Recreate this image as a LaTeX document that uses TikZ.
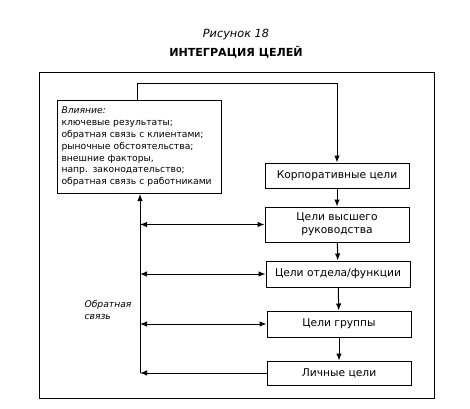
\documentclass[tikz,border=0pt]{standalone}
\usepackage{fontspec}
\setmainfont{DejaVu Sans}
\usetikzlibrary{arrows.meta}
\begin{document}
\begin{tikzpicture}[x=1pt,y=1pt,
  line/.style={line width=1pt},
  goal/.style={draw, line width=1pt, minimum width=144pt, inner sep=1pt, align=center, font=\fontsize{10.7}{13}\selectfont},
  tip/.style={line, -{Latex[length=7pt,width=5.5pt]}},
  dtip/.style={line, {Latex[length=7pt,width=5.5pt]}-{Latex[length=7pt,width=5.5pt]}}]
\useasboundingbox (0,0) rectangle (470,408);
\node (t1) at (236,374) {\fontsize{11.3}{12}\selectfont\itshape Рисунок 18};
\node (t2) at (236,356) {\fontsize{11.1}{12}\selectfont\bfseries ИНТЕГРАЦИЯ ЦЕЛЕЙ};
\node (frame) [draw, line width=1pt, minimum width=395pt, minimum height=326pt, inner sep=0] at (236.5,173) {};
\node (infl) [draw, line width=1pt, anchor=north west, minimum width=164pt, minimum height=93pt, text width=156pt, inner xsep=4pt, inner ysep=4.5pt, align=left, font=\fontsize{9.2}{11.8}\selectfont] at (57,308)
 {\textit{Влияние:}\\ключевые результаты;\\обратная связь с клиентами;\\рыночные обстоятельства;\\внешние факторы,\\напр. законодательство;\\обратная связь с работниками};
\node (korp) [goal, minimum height=25pt] at (337,232.5) {Корпоративные цели};
\node (vys) [goal, minimum height=35pt] at (337,183.5) {Цели высшего\\руководства};
\node (otd) [goal, minimum height=26pt] at (338,134) {Цели отдела/функции};
\node (grp) [goal, minimum height=26pt] at (339,84) {Цели группы};
\node (lich) [goal, minimum height=24pt] at (339,35) {Личные цели};
\node (fbl) [anchor=west, align=left, font=\fontsize{9.2}{12}\selectfont\itshape] at (81,98) {Обратная\\связь};
\coordinate (lt) at (137,325);
\coordinate (fb) at (140,35);
\draw[tip] (infl.north -| lt) -- (lt) -| (korp.north);
\draw[tip] (korp) -- (vys);
\draw[tip] (vys) -- (otd);
\draw[tip] (otd) -- (grp);
\draw[tip] (grp) -- (lich);
\draw[tip] (fb) -- (infl.south -| fb);
\draw[tip] (lich.west) -- (fb);
\draw[dtip] (vys.west -| fb) -- (vys.west);
\draw[dtip] (otd.west -| fb) -- (otd.west);
\draw[dtip] (grp.west -| fb) -- (grp.west);
\end{tikzpicture}
\end{document}
